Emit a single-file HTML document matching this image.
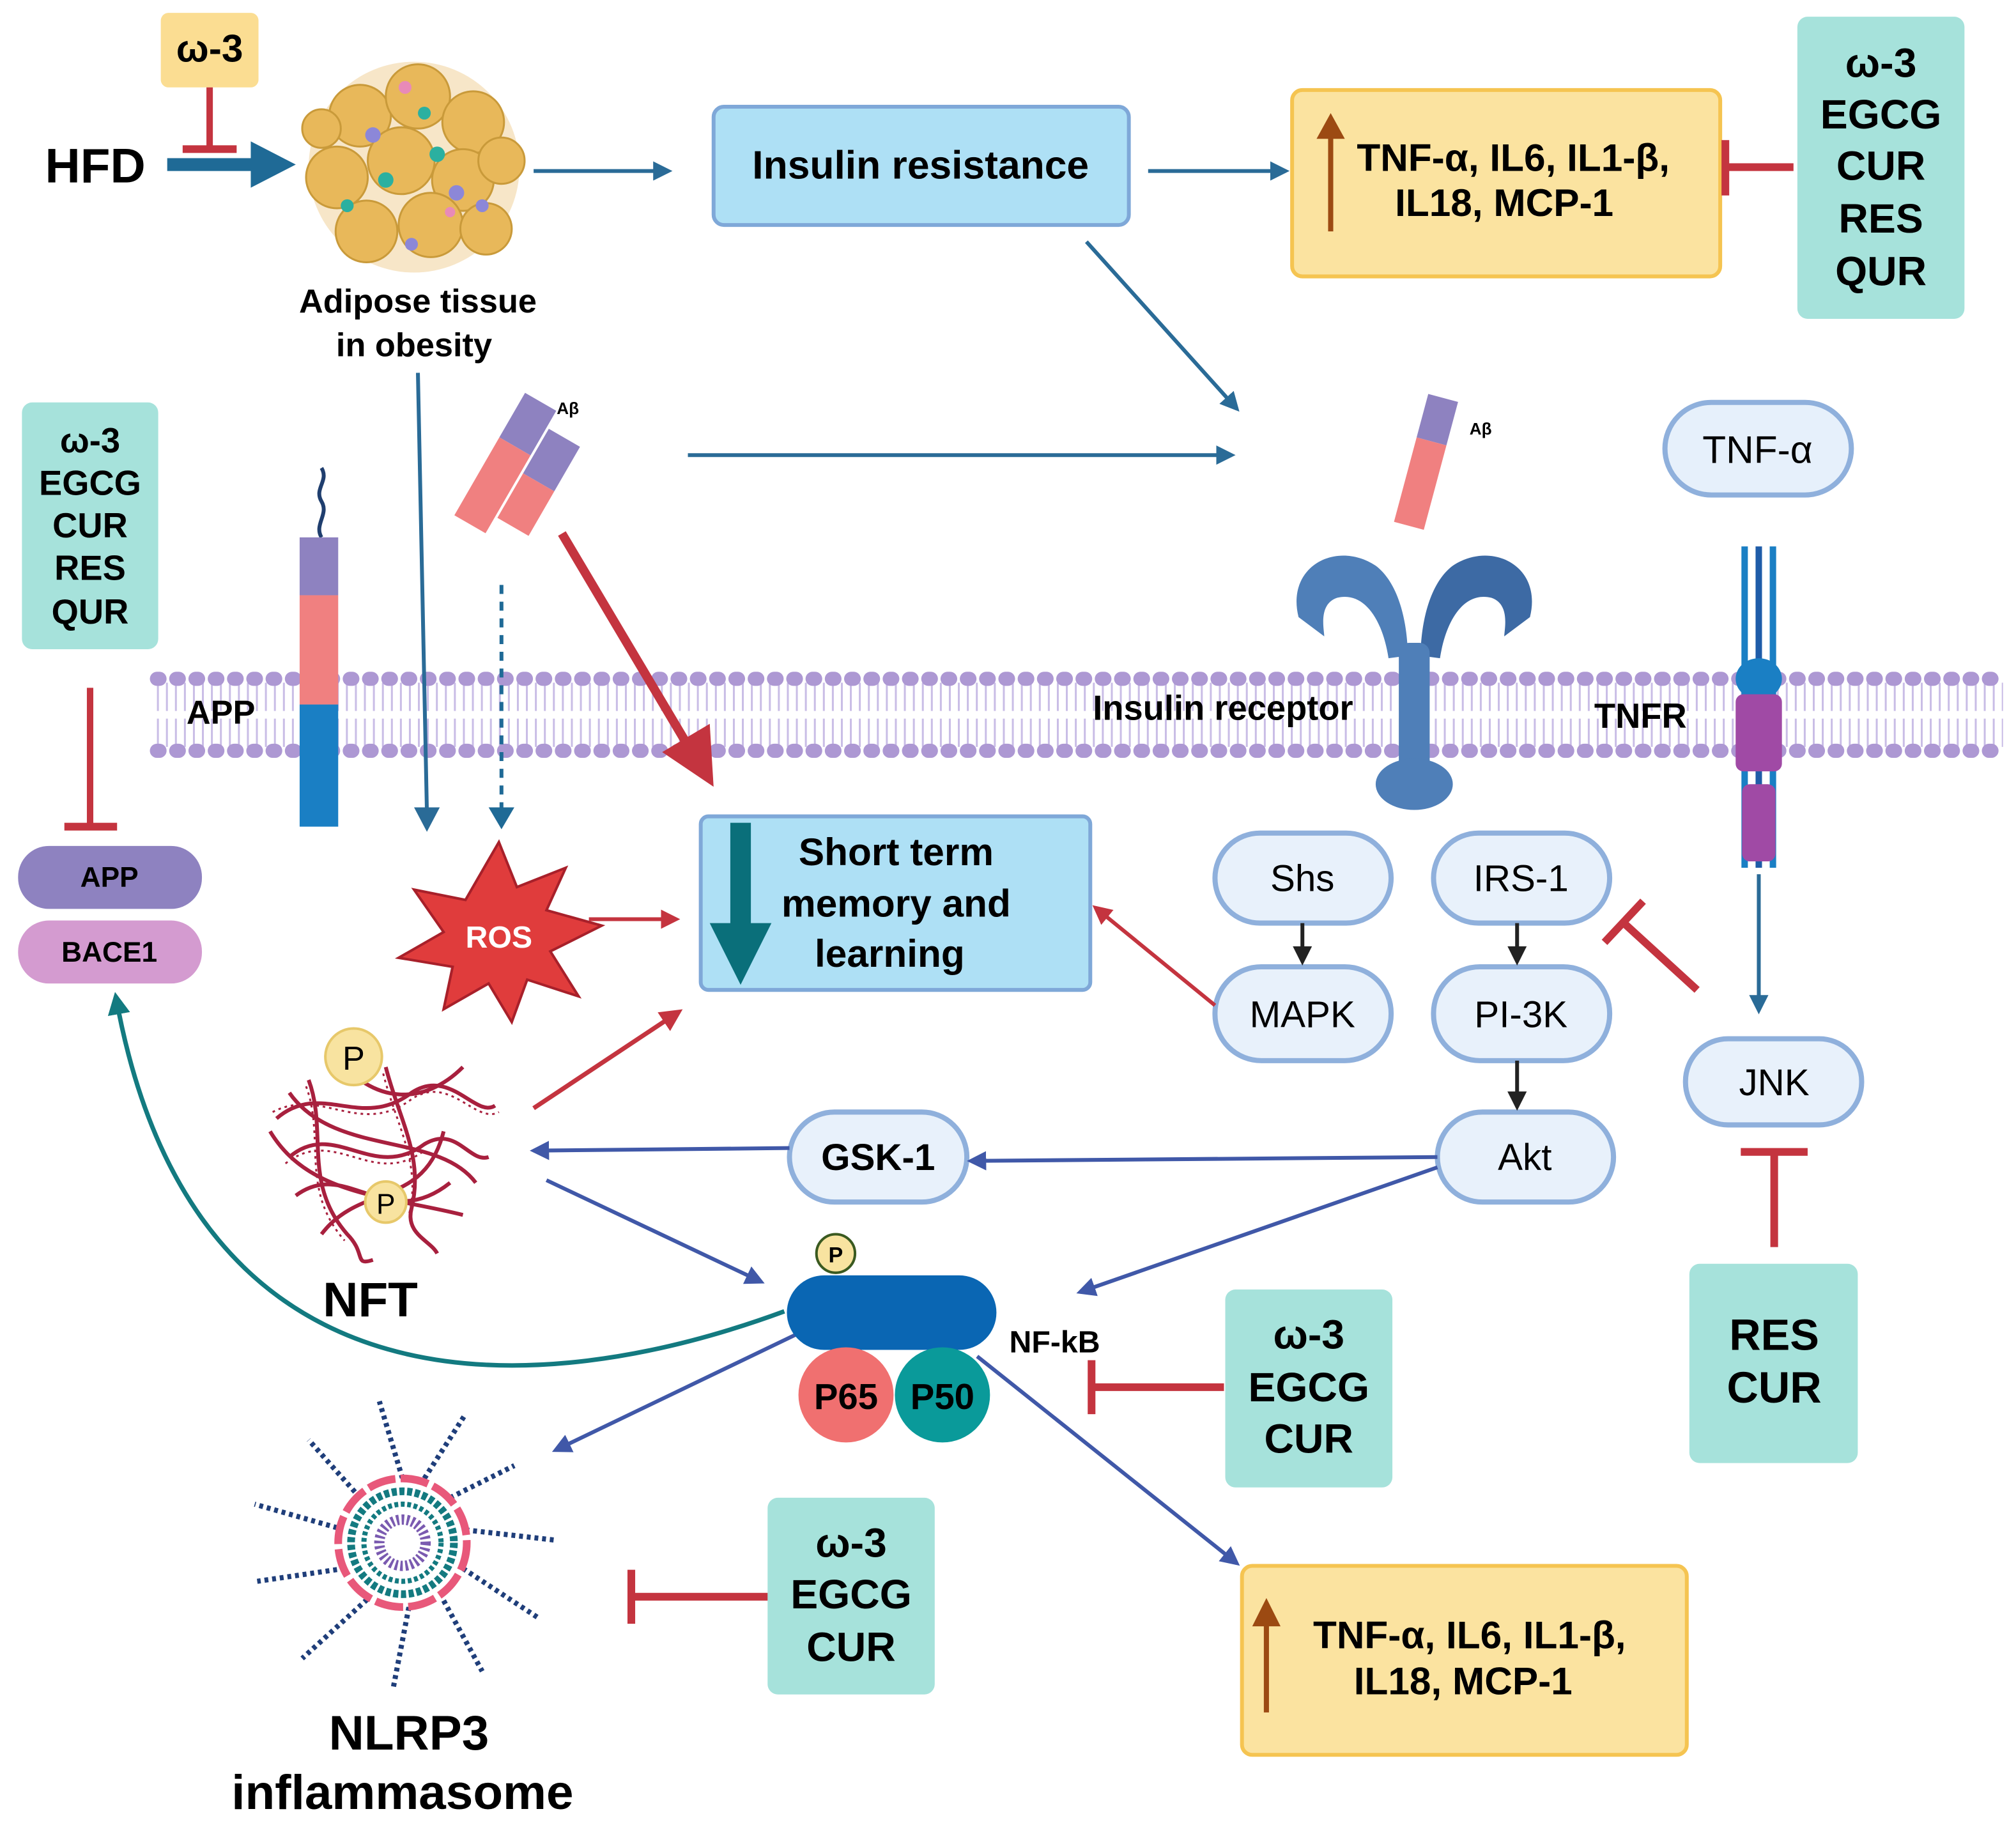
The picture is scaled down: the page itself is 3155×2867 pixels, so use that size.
<!DOCTYPE html>
<html><head><meta charset="utf-8"><style>
html,body{margin:0;padding:0;background:#fff;}
svg{display:block;}
text{font-family:"Liberation Sans",Arial,sans-serif;}
</style></head><body>
<svg width="3155" height="2867" viewBox="0 0 1568 1425" xmlns="http://www.w3.org/2000/svg">
<defs>
<marker id="ab" viewBox="0 0 10 10" refX="8" refY="5" markerWidth="5" markerHeight="5" orient="auto"><path d="M0,0L10,5L0,10z" fill="#2a6b97"/></marker>
<marker id="an" viewBox="0 0 10 10" refX="8" refY="5" markerWidth="5" markerHeight="5" orient="auto"><path d="M0,0L10,5L0,10z" fill="#4058a8"/></marker>
<marker id="ar" viewBox="0 0 10 10" refX="8" refY="5" markerWidth="5" markerHeight="5" orient="auto"><path d="M0,0L10,5L0,10z" fill="#c4343f"/></marker>
<marker id="ak" viewBox="0 0 10 10" refX="8" refY="5" markerWidth="5" markerHeight="5" orient="auto"><path d="M0,0L10,5L0,10z" fill="#222"/></marker>
<marker id="at" viewBox="0 0 10 10" refX="8" refY="5" markerWidth="5" markerHeight="5" orient="auto"><path d="M0,0L10,5L0,10z" fill="#137a80"/></marker>
</defs>
<g font-weight="bold">
<!-- membrane -->
<g>
<line x1="122" y1="542" x2="1558" y2="542" stroke="#c9bde6" stroke-width="22" stroke-dasharray="1.5 5.5"/>
<line x1="122" y1="570" x2="1558" y2="570" stroke="#c9bde6" stroke-width="22" stroke-dasharray="1.5 5.5"/>
<line x1="122" y1="528" x2="1558" y2="528" stroke="#ad98d3" stroke-width="11" stroke-linecap="round" stroke-dasharray="2 13"/>
<line x1="122" y1="584" x2="1558" y2="584" stroke="#ad98d3" stroke-width="11" stroke-linecap="round" stroke-dasharray="2 13"/>
</g>
<!-- top ω-3 -->
<rect x="125" y="10" width="76" height="58" rx="6" fill="#fbdd92"/>
<text x="163" y="48" font-size="30" text-anchor="middle">ω-3</text>
<line x1="163" y1="68" x2="163" y2="115" stroke="#c4343f" stroke-width="5"/>
<line x1="142" y1="116" x2="184" y2="116" stroke="#c4343f" stroke-width="6"/>
<text x="35" y="142" font-size="38">HFD</text>
<line x1="130" y1="128" x2="200" y2="128" stroke="#1f6a96" stroke-width="10"/>
<path d="M195,110 L230,128 L195,146z" fill="#1f6a96"/>
<!-- adipose -->
<g stroke="#c99a3a" stroke-width="1.5" fill="#e8b85a">
<circle cx="322" cy="130" r="82" fill="#f3dcb0" stroke="none" opacity=".7"/>
<circle cx="280" cy="90" r="24"/><circle cx="325" cy="75" r="25"/><circle cx="368" cy="95" r="24"/>
<circle cx="262" cy="138" r="24"/><circle cx="312" cy="125" r="26"/><circle cx="360" cy="140" r="24"/>
<circle cx="390" cy="125" r="18"/><circle cx="285" cy="180" r="24"/><circle cx="335" cy="175" r="25"/>
<circle cx="378" cy="178" r="20"/><circle cx="250" cy="100" r="15"/>
</g>
<g fill="#2bb0a0"><circle cx="300" cy="140" r="6"/><circle cx="340" cy="120" r="6"/><circle cx="270" cy="160" r="5"/><circle cx="330" cy="88" r="5"/></g>
<g fill="#8c87d8"><circle cx="290" cy="105" r="6"/><circle cx="355" cy="150" r="6"/><circle cx="320" cy="190" r="5"/><circle cx="375" cy="160" r="5"/></g>
<circle cx="315" cy="68" r="5" fill="#e88ab8"/><circle cx="350" cy="165" r="4" fill="#e88ab8"/>
<text x="325" y="243" font-size="26" text-anchor="middle">Adipose tissue</text>
<text x="322" y="277" font-size="26" text-anchor="middle">in obesity</text>
<line x1="415" y1="133" x2="520" y2="133" stroke="#2a6b97" stroke-width="3" marker-end="url(#ab)"/>
<rect x="555" y="83" width="323" height="92" rx="8" fill="#aee0f5" stroke="#7fa8d8" stroke-width="3"/>
<text x="716" y="139" font-size="31" text-anchor="middle">Insulin resistance</text>
<line x1="893" y1="133" x2="1000" y2="133" stroke="#2a6b97" stroke-width="3" marker-end="url(#ab)"/>
<rect x="1005" y="70" width="333" height="145" rx="8" fill="#fbe3a0" stroke="#f5c451" stroke-width="3"/>
<line x1="1035" y1="180" x2="1035" y2="105" stroke="#9c4a12" stroke-width="4"/><path d="M1024,108 L1035,88 L1046,108z" fill="#9c4a12"/>
<text x="1177" y="133" font-size="30" text-anchor="middle">TNF-α, IL6, IL1-β,</text>
<text x="1170" y="168" font-size="30" text-anchor="middle">IL18, MCP-1</text>
<line x1="1395" y1="130" x2="1342" y2="130" stroke="#c4343f" stroke-width="6"/>
<line x1="1342" y1="109" x2="1342" y2="152" stroke="#c4343f" stroke-width="6"/>
<rect x="1398" y="13" width="130" height="235" rx="8" fill="#a6e2db"/>
<g font-size="32" text-anchor="middle"><text x="1463" y="60">ω-3</text><text x="1463" y="100">EGCG</text><text x="1463" y="140">CUR</text><text x="1463" y="181">RES</text><text x="1463" y="222">QUR</text></g>
<!-- left box -->
<rect x="17" y="313" width="106" height="192" rx="8" fill="#a6e2db"/>
<g font-size="27" text-anchor="middle"><text x="70" y="352">ω-3</text><text x="70" y="385">EGCG</text><text x="70" y="418">CUR</text><text x="70" y="451">RES</text><text x="70" y="485">QUR</text></g>
<line x1="70" y1="535" x2="70" y2="642" stroke="#c4343f" stroke-width="5"/>
<line x1="50" y1="643" x2="91" y2="643" stroke="#c4343f" stroke-width="6"/>
<rect x="14" y="658" width="143" height="49" rx="24" fill="#8e82c0"/>
<text x="85" y="690" font-size="22" text-anchor="middle">APP</text>
<rect x="14" y="716" width="143" height="49" rx="24" fill="#d49bd0"/>
<text x="85" y="748" font-size="22" text-anchor="middle">BACE1</text>
<!-- APP protein -->
<path d="M250,418 C244,408 256,400 250,390 C244,380 256,374 250,364" fill="none" stroke="#1f3e6e" stroke-width="3"/>
<rect x="233" y="418" width="30" height="45" fill="#8e82c0"/>
<rect x="233" y="463" width="30" height="85" fill="#f08080"/>
<rect x="233" y="548" width="30" height="95" fill="#1a7fc4"/>
<text x="145" y="563" font-size="26">APP</text>
<!-- Abeta left -->
<g transform="rotate(30 400 370)">
<rect x="375" y="310" width="28" height="40" fill="#8e82c0"/>
<rect x="405" y="325" width="28" height="40" fill="#8e82c0"/>
<rect x="375" y="350" width="28" height="70" fill="#f08080"/>
<rect x="405" y="365" width="28" height="40" fill="#f08080"/>
</g>
<text x="433" y="322" font-size="13">Aβ</text>
<line x1="390" y1="455" x2="390" y2="632" stroke="#1f6a96" stroke-width="3" stroke-dasharray="7 6"/>
<path d="M380,628 L390,645 L400,628z" fill="#1f6a96"/>
<line x1="325" y1="290" x2="332" y2="632" stroke="#2a6b97" stroke-width="3"/>
<path d="M322,628 L332,647 L342,628z" fill="#2a6b97"/>
<line x1="437" y1="415" x2="535" y2="580" stroke="#c4343f" stroke-width="7"/>
<path d="M515,585 L555,612 L552,563z" fill="#c4343f"/>
<line x1="535" y1="354" x2="958" y2="354" stroke="#2a6b97" stroke-width="3" marker-end="url(#ab)"/>
<line x1="845" y1="188" x2="962" y2="318" stroke="#2a6b97" stroke-width="3" marker-end="url(#ab)"/>
<!-- Abeta right -->
<g transform="rotate(15 1110 360)"><rect x="1097" y="308" width="24" height="35" fill="#8e82c0"/><rect x="1097" y="343" width="24" height="68" fill="#f08080"/></g>
<text x="1143" y="338" font-size="13">Aβ</text>
<!-- insulin receptor -->
<g fill="#4f7fb8">
<path d="M1010,480 C1000,440 1040,420 1070,440 C1090,455 1095,490 1095,510 L1080,512 C1075,480 1060,460 1040,465 C1025,470 1030,490 1030,495z"/>
<path d="M1190,480 C1200,440 1160,420 1130,440 C1110,455 1105,490 1105,510 L1120,512 C1125,480 1140,460 1160,465 C1175,470 1170,490 1170,495z" fill="#3d6aa4"/>
<rect x="1088" y="500" width="24" height="100" rx="8"/>
<ellipse cx="1100" cy="610" rx="30" ry="20"/>
</g>
<text x="850" y="560" font-size="27">Insulin receptor</text>
<rect x="1295" y="313" width="145" height="72" rx="36" fill="#e6f0fb" stroke="#8fb0dc" stroke-width="4"/>
<text x="1367" y="360" font-size="30" font-weight="normal" text-anchor="middle">TNF-α</text>
<!-- TNFR -->
<g stroke-width="5"><line x1="1357" y1="425" x2="1357" y2="675" stroke="#1a7fc4"/><line x1="1368" y1="425" x2="1368" y2="675" stroke="#1f5ca8"/><line x1="1379" y1="425" x2="1379" y2="675" stroke="#1a7fc4"/></g>
<ellipse cx="1368" cy="528" rx="18" ry="16" fill="#1a7fc4"/>
<g fill="#a04aa5"><rect x="1350" y="540" width="36" height="60" rx="6"/><rect x="1355" y="610" width="26" height="60" rx="6"/></g>
<text x="1240" y="566" font-size="27">TNFR</text>
<!-- short term -->
<rect x="545" y="635" width="303" height="135" rx="6" fill="#aee0f5" stroke="#7fa8d8" stroke-width="3"/>
<rect x="568" y="640" width="16" height="80" fill="#0a6f7a"/>
<path d="M552,718 L600,718 L576,766z" fill="#0a6f7a"/>
<g font-size="30" text-anchor="middle"><text x="697" y="673">Short term</text><text x="697" y="713">memory and</text><text x="692" y="752">learning</text></g>
<!-- ROS -->
<path d="M388,655 L402,690 L440,675 L425,708 L468,720 L428,740 L450,775 L410,762 L398,795 L380,765 L345,785 L352,752 L310,745 L345,725 L322,692 L362,700z" fill="#e03c3c" stroke="#a8202a" stroke-width="2"/>
<text x="388" y="737" font-size="24" fill="#fff" text-anchor="middle">ROS</text>
<line x1="458" y1="715" x2="526" y2="715" stroke="#c4343f" stroke-width="3" marker-end="url(#ar)"/>
<!-- pills -->
<g fill="#e8f1fb" stroke="#8fb0dc" stroke-width="4">
<rect x="945" y="648" width="137" height="70" rx="35"/><rect x="945" y="752" width="137" height="73" rx="36"/>
<rect x="1115" y="648" width="137" height="70" rx="35"/><rect x="1115" y="752" width="137" height="73" rx="36"/>
<rect x="1118" y="865" width="137" height="70" rx="35"/><rect x="1311" y="808" width="137" height="67" rx="33"/>
<rect x="614" y="865" width="138" height="70" rx="35"/>
</g>
<g font-size="29" font-weight="normal" text-anchor="middle">
<text x="1013" y="693">Shs</text><text x="1013" y="799">MAPK</text><text x="1183" y="693">IRS-1</text><text x="1183" y="799">PI-3K</text><text x="1186" y="910">Akt</text><text x="1380" y="852">JNK</text>
</g>
<text x="683" y="910" font-size="29" text-anchor="middle">GSK-1</text>
<g stroke="#222" stroke-width="3">
<line x1="1013" y1="718" x2="1013" y2="748" marker-end="url(#ak)"/><line x1="1180" y1="718" x2="1180" y2="748" marker-end="url(#ak)"/><line x1="1180" y1="825" x2="1180" y2="861" marker-end="url(#ak)"/>
</g>
<line x1="945" y1="782" x2="852" y2="706" stroke="#c4343f" stroke-width="3" marker-end="url(#ar)"/>
<line x1="1320" y1="770" x2="1262" y2="717" stroke="#c4343f" stroke-width="6"/>
<line x1="1248" y1="733" x2="1278" y2="701" stroke="#c4343f" stroke-width="6"/>
<line x1="1368" y1="680" x2="1368" y2="786" stroke="#2a6b97" stroke-width="3" marker-end="url(#ab)"/>
<line x1="1380" y1="970" x2="1380" y2="897" stroke="#c4343f" stroke-width="6"/>
<line x1="1354" y1="896" x2="1406" y2="896" stroke="#c4343f" stroke-width="6"/>
<rect x="1314" y="983" width="131" height="155" rx="8" fill="#a6e2db"/>
<g font-size="34" text-anchor="middle"><text x="1380" y="1050">RES</text><text x="1380" y="1091">CUR</text></g>
<!-- NFT -->
<g fill="none" stroke="#a8203e" stroke-width="3">
<path d="M215,870 C250,840 280,880 320,850 C350,830 370,870 385,860"/>
<path d="M225,900 C260,870 290,920 330,890 C355,875 365,905 380,900"/>
<path d="M240,840 C255,880 235,920 270,960 C285,975 275,985 290,980"/>
<path d="M300,830 C310,870 330,900 320,940 C315,960 335,965 340,975"/>
<path d="M210,880 C240,930 300,930 360,945"/>
<path d="M260,820 C290,860 330,860 360,830"/>
<path d="M230,930 C270,900 300,960 350,920"/>
<path d="M225,850 C260,900 340,880 370,920"/>
<path d="M250,960 C280,920 330,940 345,880"/>
</g>
<g stroke="#a8203e" stroke-width="1.5" stroke-dasharray="2 3" fill="none">
<path d="M212,865 C250,845 280,885 320,855 C350,835 370,875 388,865"/><path d="M222,905 C260,875 290,925 330,895"/>
<path d="M238,845 C253,885 233,925 268,965"/><path d="M298,835 C308,875 328,905 318,945"/>
</g>
<circle cx="275" cy="822" r="22" fill="#f8e3a0" stroke="#e7c86a" stroke-width="2"/><text x="275" y="832" font-size="26" font-weight="normal" text-anchor="middle">P</text>
<circle cx="300" cy="935" r="16" fill="#f8e3a0" stroke="#e7c86a" stroke-width="2"/><text x="300" y="944" font-size="22" font-weight="normal" text-anchor="middle">P</text>
<text x="288" y="1024" font-size="38" text-anchor="middle">NFT</text>
<line x1="415" y1="862" x2="528" y2="787" stroke="#c4343f" stroke-width="3.5" marker-end="url(#ar)"/>
<g stroke="#4058a8" stroke-width="3">
<line x1="614" y1="893" x2="415" y2="895" marker-end="url(#an)"/>
<line x1="1118" y1="900" x2="755" y2="903" marker-end="url(#an)"/>
<line x1="425" y1="918" x2="592" y2="997" marker-end="url(#an)"/>
<line x1="1118" y1="908" x2="840" y2="1005" marker-end="url(#an)"/>
<line x1="640" y1="1028" x2="432" y2="1128" marker-end="url(#an)"/>
<line x1="760" y1="1055" x2="962" y2="1216" marker-end="url(#an)"/>
</g>
<path d="M610,1020 C420,1090 150,1110 90,775" fill="none" stroke="#137a80" stroke-width="3.5" marker-end="url(#at)"/>
<!-- NF-kB -->
<rect x="612" y="992" width="163" height="58" rx="29" fill="#0a66b3"/>
<circle cx="650" cy="975" r="15" fill="#f8e3a0" stroke="#3a5a20" stroke-width="2"/><text x="650" y="982" font-size="17" text-anchor="middle">P</text>
<circle cx="658" cy="1085" r="37" fill="#f07070"/><text x="658" y="1096" font-size="28" text-anchor="middle">P65</text>
<circle cx="733" cy="1085" r="37" fill="#0a9a9a"/><text x="733" y="1096" font-size="28" text-anchor="middle">P50</text>
<text x="785" y="1052" font-size="24">NF-kB</text>
<line x1="952" y1="1079" x2="849" y2="1079" stroke="#c4343f" stroke-width="6"/>
<line x1="849" y1="1058" x2="849" y2="1100" stroke="#c4343f" stroke-width="6"/>
<rect x="953" y="1003" width="130" height="154" rx="8" fill="#a6e2db"/>
<g font-size="32" text-anchor="middle"><text x="1018" y="1049">ω-3</text><text x="1018" y="1090">EGCG</text><text x="1018" y="1130">CUR</text></g>
<rect x="597" y="1165" width="130" height="153" rx="8" fill="#a6e2db"/>
<g font-size="32" text-anchor="middle"><text x="662" y="1211">ω-3</text><text x="662" y="1251">EGCG</text><text x="662" y="1292">CUR</text></g>
<line x1="597" y1="1242" x2="491" y2="1242" stroke="#c4343f" stroke-width="6"/>
<line x1="491" y1="1221" x2="491" y2="1263" stroke="#c4343f" stroke-width="6"/>
<rect x="966" y="1218" width="346" height="147" rx="8" fill="#fbe3a0" stroke="#f5c451" stroke-width="3"/>
<line x1="985" y1="1332" x2="985" y2="1262" stroke="#9c4a12" stroke-width="4"/><path d="M974,1265 L985,1243 L996,1265z" fill="#9c4a12"/>
<text x="1143" y="1282" font-size="30" text-anchor="middle">TNF-α, IL6, IL1-β,</text>
<text x="1138" y="1318" font-size="30" text-anchor="middle">IL18, MCP-1</text>
<!-- NLRP3 -->
<g stroke="#1f3e7a" stroke-width="4" stroke-dasharray="3 3">
<line x1="313" y1="1150" x2="295" y2="1090"/><line x1="330" y1="1150" x2="362" y2="1100"/><line x1="350" y1="1165" x2="400" y2="1140"/>
<line x1="362" y1="1190" x2="432" y2="1198"/><line x1="360" y1="1220" x2="418" y2="1258"/><line x1="345" y1="1245" x2="375" y2="1300"/>
<line x1="318" y1="1250" x2="306" y2="1312"/><line x1="290" y1="1240" x2="235" y2="1290"/><line x1="268" y1="1220" x2="200" y2="1230"/>
<line x1="268" y1="1190" x2="198" y2="1170"/><line x1="280" y1="1165" x2="240" y2="1120"/>
</g>
<circle cx="313" cy="1200" r="50" fill="#fff" stroke="#e8587a" stroke-width="6" stroke-dasharray="22 4"/>
<circle cx="313" cy="1200" r="40" fill="none" stroke="#137a80" stroke-width="6" stroke-dasharray="4 2"/>
<circle cx="313" cy="1200" r="30" fill="none" stroke="#137a80" stroke-width="4" stroke-dasharray="3 2"/>
<circle cx="313" cy="1200" r="18" fill="none" stroke="#7a5ab0" stroke-width="8" stroke-dasharray="2 2"/>
<text x="318" y="1361" font-size="38" text-anchor="middle">NLRP3</text>
<text x="313" y="1407" font-size="38" text-anchor="middle">inflammasome</text>
</g>
</svg>
</body></html>
